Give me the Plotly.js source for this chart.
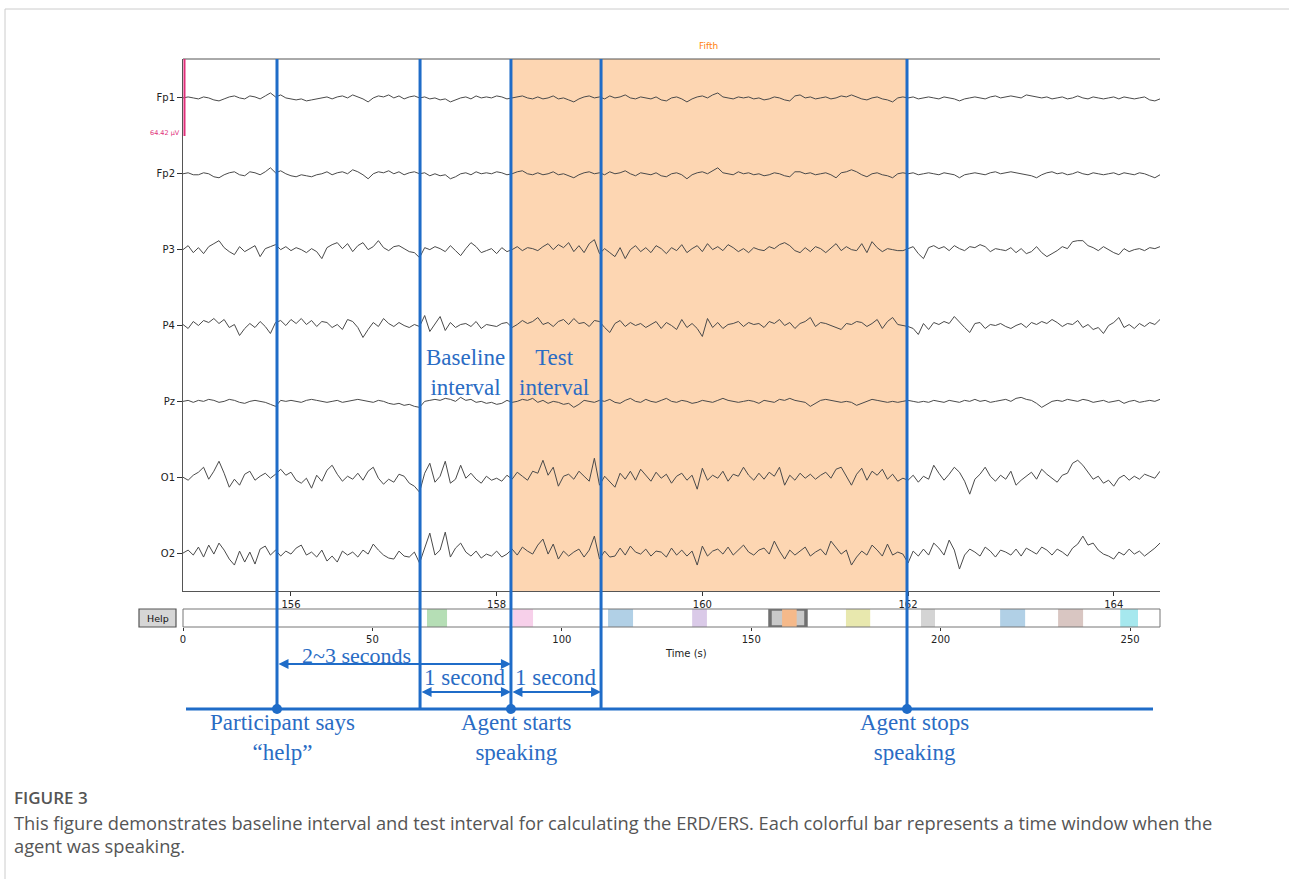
<!DOCTYPE html>
<html><head><meta charset="utf-8">
<script src="https://cdn.plot.ly/plotly-3.0.1.min.js"></script>
<style>html,body{margin:0;padding:0;background:#fff}</style>
</head><body><div id="chart" style="width:1289px;height:879px"></div>
<script>
// ---------------- data ----------------
const channels = ['Fp1','Fp2','P3','P4','Pz','O1','O2'];
const tStart = 154.95, tStep = 0.05;          // sampling grid (s)
const viewRange = [154.95, 164.45];           // visible window (s)
const mainTicks = [156,158,160,162,164];
const scrollTicks = [0,50,100,150,200,250];
const scrollRange = [0, 257.9];

const Fp1 = [0,1,0,-1,1,0,-2,-3,-1,1, 2,0,-1,2,1,-1,2,5,1,3, 0,-1,-2,-1,-3,-2,-1,0,1,-1, 1,2,0,3,1,-1,-4,0,2,1,
 3,0,2,-1,1,2,0,1,-1,0, -2,-1,-4,-2,0,1,-1,2,0,1, 0,2,1,-1,0,1,2,0,-1,1, -1,0,2,-1,0,-2,-4,-1,1,2,
 0,1,-1,2,0,1,3,0,-1,1, 0,-1,1,-2,-3,0,1,-1,-4,-1, 1,2,0,3,5,1,0,-1,1,0, 1,-1,0,-2,-1,1,0,-2,-3,2,
 3,0,1,-1,0,1,-1,0,2,1, 3,1,-1,-2,0,1,-1,-2,-4,0, 1,0,1,-1,0,1,0,-1,1,0, -1,-3,-1,0,1,0,-1,1,2,0,
 1,2,1,0,3,2,1,0,1,-1, 0,1,-1,0,2,0,-1,1,0,-1, 0,1,-1,1,0,-1,0,1,-2,-3,-1];
const Fp2 = [0,1,-1,-1,1,0,-3,-4,-1,1, 2,-1,-2,2,1,-1,2,6,1,3, 0,-2,-3,-1,-2,-3,-1,0,2,-1, 1,2,0,4,2,-1,-5,0,2,1,
 3,0,2,-1,1,2,0,1,-2,0, -2,-1,-5,-3,0,1,-1,2,0,1, 0,2,1,-1,0,2,3,0,-1,1, -1,0,2,-1,0,-2,-4,-1,1,2,
 0,1,-1,2,0,1,3,0,-2,1, 0,-1,1,-2,-3,0,1,-1,-5,-1, 1,2,0,3,6,1,0,-1,2,0, 1,-1,0,-2,-1,1,0,-2,-3,2,
 2,0,1,-1,0,1,-1,-4,1,2, 4,2,-1,-3,0,1,-1,-2,-4,0, 1,0,1,-1,0,1,0,-1,1,0, -1,-4,-1,0,1,0,-1,1,2,0,
 1,2,1,0,-1,-2,-4,-1,1,2, 0,1,-1,0,2,0,-1,1,0,-1, 0,1,-1,1,0,-1,1,0,-2,-4,-1];
const P3 = [0,4,-3,2,-4,3,6,9,2,-2, -5,3,-2,1,4,-7,1,3,5,0, 3,-1,2,0,-3,1,-2,-9,2,5, 7,1,6,-2,4,7,0,3,9,2,
 -1,3,4,1,-2,-3,-8,2,0,3, 1,-2,4,-1,-6,1,7,3,-3,-1, 1,-4,2,-2,0,3,-1,2,1,-1, 3,6,0,5,2,7,-2,4,-3,6,
 10,-4,1,-3,-7,2,-9,0,4,-2, 2,-3,4,1,-4,2,-1,5,-3,1, 4,-2,6,0,3,-1,5,2,-2,1, -3,2,0,-1,3,1,5,7,4,-1,
 -3,2,-2,3,1,-3,2,6,-1,3, 0,-1,6,-3,8,2,-2,1,0,-1, -1,1,3,-4,-9,2,4,1,3,-1, 4,1,-1,3,2,5,3,-2,1,0,
 -1,2,-3,1,-4,-2,3,-3,-7,-4, -1,3,1,8,9,9,4,2,-1,3, 0,-3,-5,1,-2,0,1,-1,2,1,3];
const P4 = [1,-3,4,0,5,3,7,2,6,-2, 1,-10,-3,2,-2,4,-1,-8,3,5, 0,6,2,7,1,5,-1,4,3,-2, 1,-4,6,4,-2,-12,-4,3,-1,7,
 2,-1,3,0,-2,1,-1,10,-6,2, 9,-5,3,-2,1,2,-1,4,-3,1, 0,-1,2,3,-2,1,5,2,4,8, 1,3,-1,4,6,1,7,2,3,-1,
 5,4,-2,-7,2,5,-1,3,0,2, -2,1,4,-3,3,0,-4,6,-2,2, -3,-11,7,-2,3,-3,1,2,4,-1, 3,1,2,-2,4,2,6,0,3,-3,
 2,4,8,-1,3,2,0,-2,-4,2, 1,4,3,-1,2,6,-3,4,8,1, 0,-1,-3,-9,2,-4,3,1,4,2, 9,3,-2,-7,2,3,-3,1,0,2,
 -1,-3,0,2,-2,3,1,4,2,6, 3,-1,2,1,5,-2,1,-4,-2,-8, 0,3,8,-2,1,-3,2,-1,3,1,6];
const Pz = [0,1,-1,1,0,2,1,-1,0,2, 1,-1,-2,0,1,0,-1,-3,-5,1, 0,1,0,-1,1,2,1,0,-1,0, 1,-1,0,1,2,1,0,-1,1,0,
 -2,-3,-2,-4,-3,-5,-6,0,1,2, 1,3,2,0,4,1,2,-1,0,-2, -1,-3,-2,1,-1,0,2,1,3,-1, 1,-2,0,-1,-3,-2,-6,-3,1,0,
 -1,1,0,2,-1,-2,1,3,0,-1, 2,0,-1,1,3,0,-1,1,0,-2, -1,1,0,-1,1,3,1,0,-1,0, 1,0,-2,1,0,-1,2,1,3,1,
 0,-1,-5,-2,1,2,1,0,-1,0, -1,-4,-2,0,2,1,0,-1,0,-1, 0,1,0,-1,0,-1,1,0,-1,1, 0,-1,1,0,2,0,1,-1,0,1,
 2,0,3,4,2,1,-2,-6,-3,0, 1,0,2,1,0,2,1,-1,0,1, -1,0,1,-2,0,1,-1,0,1,0,2];
const O1 = [0,-3,2,5,10,-2,6,16,4,-10, -2,-8,3,6,-3,1,4,-1,3,8, 2,5,-3,-6,-1,-11,2,-4,7,12, 3,-4,1,-2,4,-3,6,10,-1,-7,
 -2,-5,3,1,-6,-9,-15,4,14,-5, 1,16,-6,-2,12,-1,4,-2,-6,1, -3,-1,-4,2,-2,5,1,-3,6,4, 17,2,10,-9,1,3,-2,6,1,-4,
 19,-8,1,-5,-10,4,-2,6,-3,8, 2,-4,5,-1,3,-6,1,4,-3,2, -12,9,-3,2,-1,6,-4,3,1,10, 2,-3,4,-2,5,1,10,-8,2,-3,
 4,-1,3,-2,2,5,-1,8,10,1, -8,3,9,-3,6,2,8,-2,3,-4, -1,-3,2,-5,1,-2,12,4,-3,3, 10,5,-4,-17,-2,3,10,1,-4,2,
 -2,6,-8,-3,1,5,-2,8,3,-1, -5,2,4,14,17,12,5,-2,1,-6, -3,-9,-1,2,-3,1,-2,3,1,-1,6];
const O2 = [0,3,-2,6,-4,8,-1,10,3,-6, -12,2,-9,1,-11,4,7,-2,3,-3, 2,-1,5,8,-2,1,-4,3,-8,-3, -9,2,-2,1,-4,3,-1,9,3,-2,
 -5,-6,2,-3,-4,1,-10,6,20,-2, 3,21,-4,5,10,1,-3,2,-5,-1, -3,2,-4,-1,4,-2,6,2,-1,8, 14,-1,9,-6,2,-3,1,4,-4,3,
 17,-6,2,-4,-3,5,-2,7,1,-1, 4,-3,2,1,-4,5,-2,3,-3,2, -12,7,-3,2,4,-1,6,-2,3,8, 1,-2,3,5,-1,12,2,-6,3,-2,
 2,6,-3,1,4,-2,12,5,-1,3, -12,-4,2,-2,8,3,-3,9,-2,1, -1,-10,2,-3,4,-2,10,5,-2,13, 3,-16,-2,4,1,-3,6,2,-4,3,
 1,-2,4,-3,5,2,-1,6,3,-2, 4,1,-3,5,9,17,8,10,3,-1, -3,-6,1,-2,4,-1,2,-3,1,5,10];
const signals = [Fp1, Fp2, P3, P4, Pz, O1, O2];

// event markers (s): participant says help, baseline start, agent starts, test end, agent stops
const events = [155.864, 157.255, 158.139, 159.015, 161.99];
// annotation windows in the recording (s)
const annotOnset = [64.4, 87.1, 112.2, 134.4, 158.139, 175.0, 194.8, 215.7, 231.0, 247.4];
const annotEnd   = [69.7, 92.4, 118.8, 138.3, 161.99, 181.4, 198.5, 222.3, 237.6, 252.1];
const annotColors = ['#b5deb5','#f7d0ea','#b1d0e6','#dacae8','#f5b98a','#e8e8ae','#d4d4d4','#b1d0e6','#d9c6c2','#a6e8ee'];
const scaleLabel = '64.42 µV';

// ---------------- helpers ----------------
const W = 1289, H = 879;
const px = x => x / W;
const py = y => 1 - y / H;
const BLUE = '#1f6cc8';
const TXT = '#2a6cc4';
const SPACING = 76;
const offsets = channels.map((_, k) => -k * SPACING);

const traces = signals.map((sig, k) => ({
  type: 'scatter', mode: 'lines',
  x: sig.map((_, i) => tStart + i * tStep),
  y: sig.map(v => v + offsets[k]),
  line: {color: '#4a4a4a', width: 1},
  xaxis: 'x', yaxis: 'y', hoverinfo: 'skip'
}));

traces.push({
  type: 'bar', orientation: 'h', xaxis: 'x2', yaxis: 'y2',
  y: annotOnset.map(() => 0),
  base: annotOnset,
  x: annotOnset.map((s, i) => annotEnd[i] - s),
  width: 1,
  marker: {color: annotColors, line: {width: 0}},
  hoverinfo: 'skip'
});

const shapes = [];
// figure frame
shapes.push({type:'line', xref:'paper', yref:'paper', x0:px(5), x1:1, y0:py(9), y1:py(9), line:{color:'#cccccc', width:1}});
shapes.push({type:'line', xref:'paper', yref:'paper', x0:px(5), x1:px(5), y0:py(9), y1:0, line:{color:'#cccccc', width:1}});
// orange annotation span in main view
shapes.push({type:'rect', xref:'x', yref:'paper', x0:annotOnset[4], x1:annotEnd[4], y0:py(591), y1:py(59),
  fillcolor:'#fdd6b2', line:{width:0}, layer:'below'});
// top spine
shapes.push({type:'line', xref:'paper', yref:'paper', x0:px(183), x1:px(1160), y0:py(59), y1:py(59), line:{color:'#555', width:1}});
// scale bar
shapes.push({type:'line', xref:'paper', yref:'paper', x0:px(184.5), x1:px(184.5), y0:py(59), y1:py(136), line:{color:'#e0307a', width:2}});
// scroll bar view box
shapes.push({type:'rect', xref:'x2', yref:'y2', x0:viewRange[0], x1:viewRange[1], y0:-0.5, y1:0.5,
  fillcolor:'#c9c9c9', line:{color:'#707070', width:3.5}, layer:'below'});
// scroll bar outline
shapes.push({type:'rect', xref:'paper', yref:'paper', x0:px(183), x1:px(1160), y0:py(627), y1:py(609),
  line:{color:'#777', width:1}});
// help button
shapes.push({type:'rect', xref:'paper', yref:'paper', x0:px(139), x1:px(176), y0:py(627), y1:py(609),
  fillcolor:'#d6d6d6', line:{color:'#555', width:1.2}});
// event vertical lines
events.forEach(e => shapes.push({type:'line', xref:'x', yref:'paper', x0:e, x1:e, y0:py(709), y1:py(59),
  line:{color:BLUE, width:3}}));
// timeline
shapes.push({type:'line', xref:'paper', yref:'paper', x0:px(186), x1:px(1153), y0:py(709), y1:py(709), line:{color:BLUE, width:3}});
// dots
[0,2,4].forEach(k => shapes.push({type:'circle', xref:'x', yref:'paper', xsizemode:'pixel', ysizemode:'pixel',
  xanchor:events[k], yanchor:py(709), x0:-5, x1:5, y0:-5, y1:5, fillcolor:BLUE, line:{color:BLUE, width:0}}));

const serif = {family:'Liberation Serif, Times New Roman, serif', size:23, color:TXT};
const sans = (s, c) => ({family:'DejaVu Sans, sans-serif', size:s, color:c || '#222'});
const ann = [];
const arrow = (a, b, y) => ({x:b, y:py(y), xref:'x', yref:'paper', ax:a, ay:py(y), axref:'x', ayref:'paper',
  text:'', showarrow:true, arrowside:'end+start', arrowhead:2, startarrowhead:2, arrowsize:1, startarrowsize:1,
  arrowwidth:2, arrowcolor:BLUE, standoff:0, startstandoff:0});
ann.push(arrow(events[0], events[2], 664));
ann.push(arrow(events[1], events[2], 692));
ann.push(arrow(events[2], events[3], 692));
const txt = (t, x, y, font, extra) => Object.assign({text:t, x:px(x), y:py(y), xref:'paper', yref:'paper',
  showarrow:false, font:font, xanchor:'center', yanchor:'middle'}, extra || {});
ann.push(txt('Baseline<br>interval', 465, 372, serif));
ann.push(txt('Test<br>interval', 554, 372, serif));
ann.push(txt('2~3 seconds', 356, 655, Object.assign({}, serif, {size:22})));
ann.push(txt('1 second', 465, 677, serif));
ann.push(txt('1 second', 556, 677, serif));
ann.push(txt('Participant says<br>“help”', 282, 737, serif));
ann.push(txt('Agent starts<br>speaking', 516, 737, serif));
ann.push(txt('Agent stops<br>speaking', 914, 737, serif));
ann.push({text:'Fifth', x:(annotOnset[4] + annotEnd[4]) / 2, xref:'x', y:py(46), yref:'paper', showarrow:false,
  yanchor:'middle', font:sans(9, '#ff7f0e')});
ann.push(txt(scaleLabel, 182, 133, sans(6.5, '#e0307a'), {xanchor:'right'}));
ann.push(txt('Help', 157.5, 618, sans(9.5, '#111')));
ann.push(txt('Time (s)', 686, 653, sans(10, '#222')));
ann.push(txt('FIGURE 3', 12, 797, {family:'Open Sans, sans-serif', size:17, color:'#555', weight:600}, {xanchor:'left'}));
ann.push(txt('This figure demonstrates baseline interval and test interval for calculating the ERD/ERS. Each colorful bar represents a time window when the',
  12, 822, {family:'Open Sans, sans-serif', size:18.3, color:'#555'}, {xanchor:'left'}));
ann.push(txt('agent was speaking.', 12, 845, {family:'Open Sans, sans-serif', size:18.3, color:'#555'}, {xanchor:'left'}));

const layout = {
  width: W, height: H, margin: {l:0, r:0, t:0, b:0},
  paper_bgcolor: '#fff', plot_bgcolor: 'rgba(0,0,0,0)', showlegend: false,
  xaxis: {domain:[px(183), px(1160)], range:viewRange, anchor:'y', tickvals:mainTicks,
    ticks:'outside', ticklen:4, tickcolor:'#333', showline:true, linecolor:'#555', linewidth:1,
    showgrid:false, zeroline:false, tickfont:sans(10)},
  yaxis: {domain:[py(591), py(59)], range:[-6*SPACING - 38, 39], anchor:'x', tickvals:offsets, ticktext:channels,
    ticks:'outside', ticklen:5, tickcolor:'#333', showline:true, linecolor:'#555', linewidth:1,
    showgrid:false, zeroline:false, tickfont:sans(10)},
  xaxis2: {domain:[px(183), px(1160)], range:scrollRange, anchor:'y2', tickvals:scrollTicks,
    ticks:'outside', ticklen:3, tickcolor:'#333', showline:false, showgrid:false, zeroline:false, tickfont:sans(10)},
  yaxis2: {domain:[py(627), py(609)], range:[-0.5, 0.5], anchor:'x2', visible:false},
  shapes: shapes, annotations: ann
};
Plotly.newPlot('chart', traces, layout, {displayModeBar:false, staticPlot:true});
</script></body></html>
